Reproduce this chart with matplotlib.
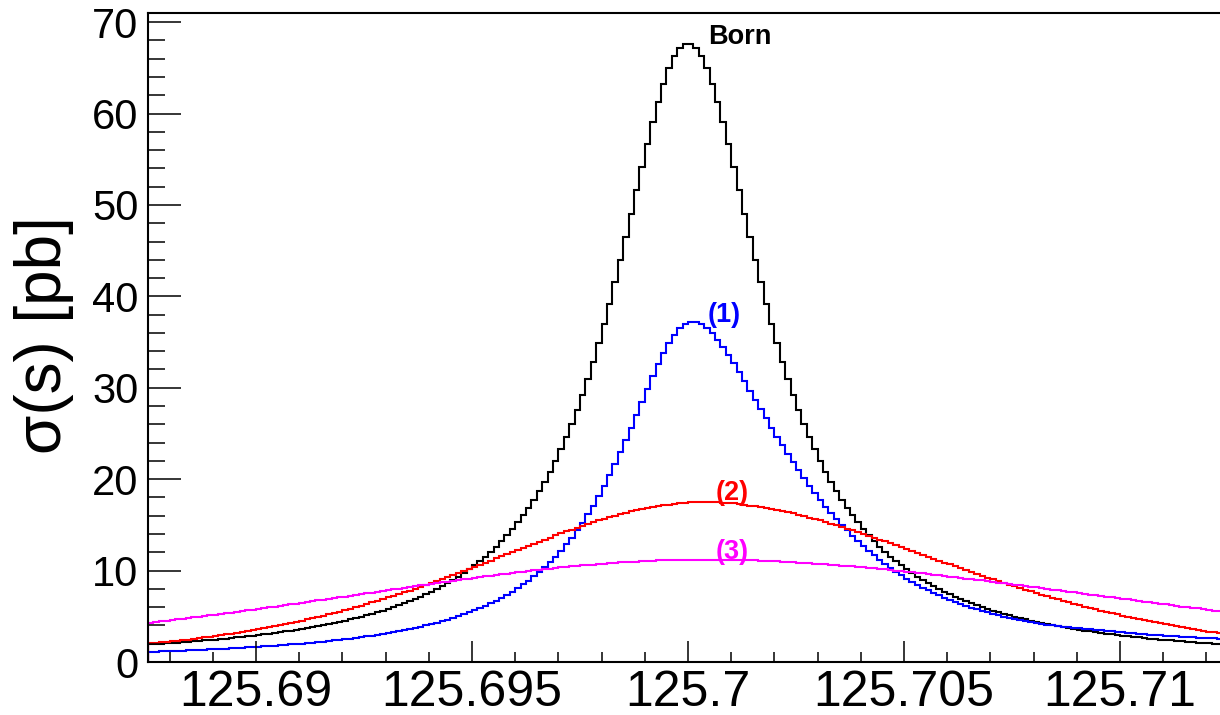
import numpy as np
import matplotlib
matplotlib.use('Agg')
from matplotlib import pyplot as plt
from matplotlib.ticker import MultipleLocator

plt.rcParams['font.family'] = ['Liberation Sans', 'DejaVu Sans']

# histogram range, 200 bins of 0.125 MeV
x_lo, x_hi, nbins = 125.6875, 125.7125, 200

xticks = [125.69, 125.695, 125.7, 125.705, 125.71]
xlabels = ['125.69', '125.695', '125.7', '125.705', '125.71']

born = [1.92, 1.96, 2.00, 2.04, 2.08, 2.12, 2.17, 2.21, 2.26, 2.31,
        2.36, 2.41, 2.46, 2.52, 2.57, 2.63, 2.69, 2.76, 2.82, 2.89,
        2.96, 3.03, 3.11, 3.19, 3.27, 3.35, 3.44, 3.53, 3.62, 3.72,
        3.82, 3.93, 4.04, 4.15, 4.27, 4.40, 4.53, 4.66, 4.81, 4.95,
        5.11, 5.27, 5.44, 5.62, 5.81, 6.00, 6.21, 6.42, 6.65, 6.89,
        7.14, 7.41, 7.69, 7.98, 8.29, 8.62, 8.97, 9.34, 9.73, 10.14,
        10.58, 11.05, 11.54, 12.07, 12.63, 13.23, 13.86, 14.54, 15.27, 16.05,
        16.88, 17.77, 18.72, 19.74, 20.83, 22.00, 23.26, 24.60, 26.04, 27.59,
        29.24, 30.99, 32.87, 34.86, 36.97, 39.19, 41.52, 43.94, 46.45, 49.01,
        51.59, 54.16, 56.67, 59.07, 61.29, 63.27, 64.95, 66.27, 67.18, 67.64,
        67.64, 67.18, 66.27, 64.95, 63.27, 61.29, 59.07, 56.67, 54.16, 51.59,
        49.01, 46.45, 43.94, 41.52, 39.19, 36.97, 34.86, 32.87, 30.99, 29.24,
        27.59, 26.04, 24.60, 23.26, 22.00, 20.83, 19.74, 18.72, 17.77, 16.88,
        16.05, 15.27, 14.54, 13.86, 13.23, 12.63, 12.07, 11.54, 11.05, 10.58,
        10.14, 9.73, 9.34, 8.97, 8.62, 8.29, 7.98, 7.69, 7.41, 7.14,
        6.89, 6.65, 6.42, 6.21, 6.00, 5.81, 5.62, 5.44, 5.27, 5.11,
        4.95, 4.81, 4.66, 4.53, 4.40, 4.27, 4.15, 4.04, 3.93, 3.82,
        3.72, 3.62, 3.53, 3.44, 3.35, 3.27, 3.19, 3.11, 3.03, 2.96,
        2.89, 2.82, 2.76, 2.69, 2.63, 2.57, 2.52, 2.46, 2.41, 2.36,
        2.31, 2.26, 2.21, 2.17, 2.12, 2.08, 2.04, 2.00, 1.96, 1.92]

isr = [1.12, 1.14, 1.16, 1.18, 1.20, 1.22, 1.25, 1.27, 1.30, 1.32,
       1.35, 1.38, 1.41, 1.43, 1.47, 1.49, 1.53, 1.56, 1.60, 1.63,
       1.67, 1.71, 1.75, 1.79, 1.83, 1.88, 1.92, 1.97, 2.02, 2.07,
       2.13, 2.18, 2.24, 2.30, 2.36, 2.43, 2.50, 2.57, 2.64, 2.73,
       2.80, 2.89, 2.98, 3.07, 3.17, 3.28, 3.38, 3.50, 3.61, 3.74,
       3.87, 4.01, 4.16, 4.31, 4.47, 4.64, 4.82, 5.01, 5.22, 5.43,
       5.66, 5.90, 6.16, 6.43, 6.72, 7.03, 7.36, 7.70, 8.08, 8.48,
       8.91, 9.36, 9.85, 10.38, 10.94, 11.54, 12.18, 12.87, 13.61, 14.40,
       15.25, 16.16, 17.12, 18.16, 19.25, 20.41, 21.63, 22.92, 24.25, 25.63,
       27.04, 28.45, 29.87, 31.25, 32.57, 33.79, 34.88, 35.80, 36.53, 37.03,
       37.20, 37.17, 36.94, 36.52, 35.95, 35.26, 34.47, 33.60, 32.68, 31.72,
       30.72, 29.70, 28.68, 27.66, 26.65, 25.64, 24.66, 23.69, 22.75, 21.84,
       20.96, 20.10, 19.28, 18.49, 17.73, 17.00, 16.31, 15.64, 15.01, 14.40,
       13.83, 13.28, 12.71, 12.19, 11.68, 11.21, 10.75, 10.32, 9.89, 9.50,
       9.12, 8.76, 8.43, 8.13, 7.83, 7.55, 7.29, 7.04, 6.79, 6.56,
       6.34, 6.13, 5.95, 5.77, 5.59, 5.42, 5.26, 5.12, 4.97, 4.83,
       4.70, 4.58, 4.47, 4.37, 4.27, 4.20, 4.10, 4.02, 3.95, 3.88,
       3.81, 3.75, 3.68, 3.63, 3.58, 3.52, 3.47, 3.41, 3.35, 3.29,
       3.23, 3.19, 3.13, 3.08, 3.03, 3.00, 2.95, 2.91, 2.86, 2.83,
       2.79, 2.76, 2.72, 2.70, 2.66, 2.63, 2.60, 2.58, 2.55, 2.52]

spread1 = [2.05, 2.10, 2.15, 2.21, 2.27, 2.34, 2.40, 2.46, 2.54, 2.62,
           2.69, 2.77, 2.84, 2.93, 3.02, 3.10, 3.18, 3.28, 3.38, 3.48,
           3.59, 3.69, 3.79, 3.90, 4.02, 4.15, 4.25, 4.38, 4.52, 4.65,
           4.79, 4.93, 5.06, 5.21, 5.36, 5.52, 5.68, 5.84, 5.99, 6.17,
           6.34, 6.51, 6.68, 6.87, 7.06, 7.25, 7.43, 7.62, 7.82, 8.03,
           8.24, 8.44, 8.65, 8.86, 9.09, 9.30, 9.50, 9.73, 9.95, 10.18,
           10.41, 10.64, 10.86, 11.10, 11.33, 11.56, 11.79, 12.03, 12.25, 12.49,
           12.72, 12.95, 13.18, 13.40, 13.62, 13.84, 14.06, 14.28, 14.49, 14.69,
           14.90, 15.10, 15.30, 15.49, 15.67, 15.84, 16.01, 16.18, 16.34, 16.47,
           16.60, 16.73, 16.86, 16.97, 17.06, 17.14, 17.22, 17.30, 17.36, 17.41,
           17.45, 17.48, 17.50, 17.50, 17.48, 17.45, 17.41, 17.38, 17.35, 17.27,
           17.20, 17.12, 17.04, 16.97, 16.87, 16.75, 16.63, 16.51, 16.39, 16.27,
           16.11, 15.96, 15.79, 15.63, 15.48, 15.31, 15.13, 14.95, 14.75, 14.57,
           14.39, 14.19, 13.99, 13.78, 13.59, 13.39, 13.19, 12.98, 12.77, 12.55,
           12.35, 12.14, 11.93, 11.72, 11.50, 11.29, 11.08, 10.88, 10.67, 10.47,
           10.25, 10.05, 9.84, 9.64, 9.44, 9.24, 9.05, 8.85, 8.66, 8.47,
           8.29, 8.09, 7.91, 7.72, 7.55, 7.38, 7.20, 7.03, 6.86, 6.69,
           6.54, 6.38, 6.22, 6.06, 5.91, 5.77, 5.63, 5.48, 5.34, 5.20,
           5.07, 4.94, 4.82, 4.69, 4.57, 4.45, 4.34, 4.23, 4.11, 4.00,
           3.90, 3.79, 3.70, 3.61, 3.51, 3.42, 3.33, 3.25, 3.17, 3.08]

spread2 = [4.30, 4.37, 4.45, 4.51, 4.58, 4.66, 4.73, 4.80, 4.87, 4.94,
           5.02, 5.10, 5.17, 5.25, 5.33, 5.41, 5.48, 5.56, 5.64, 5.73,
           5.80, 5.89, 5.97, 6.06, 6.13, 6.22, 6.30, 6.39, 6.47, 6.55,
           6.64, 6.73, 6.82, 6.90, 6.99, 7.07, 7.16, 7.24, 7.33, 7.42,
           7.51, 7.59, 7.68, 7.77, 7.86, 7.95, 8.03, 8.12, 8.21, 8.30,
           8.38, 8.47, 8.55, 8.64, 8.71, 8.80, 8.88, 8.96, 9.04, 9.13,
           9.21, 9.29, 9.37, 9.44, 9.52, 9.59, 9.67, 9.74, 9.82, 9.89,
           9.96, 10.02, 10.09, 10.15, 10.22, 10.28, 10.34, 10.41, 10.46, 10.51,
           10.56, 10.61, 10.66, 10.71, 10.76, 10.81, 10.86, 10.89, 10.92, 10.95,
           10.98, 11.02, 11.05, 11.08, 11.11, 11.12, 11.14, 11.15, 11.16, 11.17,
           11.18, 11.19, 11.20, 11.20, 11.19, 11.18, 11.17, 11.16, 11.15, 11.14,
           11.13, 11.12, 11.11, 11.08, 11.05, 11.02, 11.00, 10.97, 10.94, 10.91,
           10.88, 10.85, 10.82, 10.77, 10.73, 10.68, 10.64, 10.59, 10.55, 10.50,
           10.46, 10.41, 10.35, 10.29, 10.23, 10.18, 10.12, 10.06, 10.00, 9.95,
           9.89, 9.83, 9.76, 9.69, 9.62, 9.55, 9.48, 9.42, 9.35, 9.28,
           9.21, 9.13, 9.06, 8.99, 8.92, 8.84, 8.77, 8.69, 8.62, 8.55,
           8.47, 8.39, 8.32, 8.24, 8.17, 8.08, 8.01, 7.93, 7.85, 7.77,
           7.69, 7.62, 7.53, 7.46, 7.38, 7.30, 7.22, 7.15, 7.07, 6.99,
           6.91, 6.84, 6.76, 6.68, 6.61, 6.53, 6.45, 6.38, 6.30, 6.22,
           6.15, 6.07, 6.00, 5.93, 5.86, 5.78, 5.71, 5.63, 5.57, 5.49]

edges = np.linspace(x_lo, x_hi, nbins + 1)

fig = plt.figure(figsize=(12.2, 7.15), dpi=100)
ax = fig.add_axes([148/1220, 53/715, 1080/1220, 649/715])

ax.stairs(born, edges, color='black', lw=1.5)
ax.stairs(isr, edges, color='blue', lw=1.5)
ax.stairs(spread1, edges, color='red', lw=1.5)
ax.stairs(spread2, edges, color='magenta', lw=1.5)

ax.text(125.70046, 68.4, 'Born', color='black', fontsize=19.5, fontweight='bold', va='center')
ax.text(125.70046, 38.0, '(1)', color='blue', fontsize=19.5, fontweight='bold', va='center')
ax.text(125.70065, 18.5, '(2)', color='red', fontsize=19.5, fontweight='bold', va='center')
ax.text(125.70065, 12.0, '(3)', color='magenta', fontsize=19.5, fontweight='bold', va='center')

ax.set_xlim(x_lo, x_hi)
ax.set_ylim(0, 71)
ax.set_xticks(xticks)
ax.set_xticklabels(xlabels)
ax.xaxis.set_minor_locator(MultipleLocator(0.001))
ax.yaxis.set_major_locator(MultipleLocator(10))
ax.yaxis.set_minor_locator(MultipleLocator(2))
ax.tick_params(axis='x', which='major', direction='in', length=15, width=1.1, labelsize=36, pad=6)
ax.tick_params(axis='x', which='minor', direction='in', length=7.5, width=1.1)
ax.tick_params(axis='y', which='major', direction='in', length=24, width=1.1, labelsize=30, pad=7)
ax.tick_params(axis='y', which='minor', direction='in', length=12, width=1.1)
for s in ax.spines.values():
    s.set_linewidth(1.5)

fig.text(44/1220, 1 - 335/715, 'σ(s) [pb]', rotation=90, fontsize=46,
         ha='center', va='center')

fig.savefig('out.png', dpi=100)
